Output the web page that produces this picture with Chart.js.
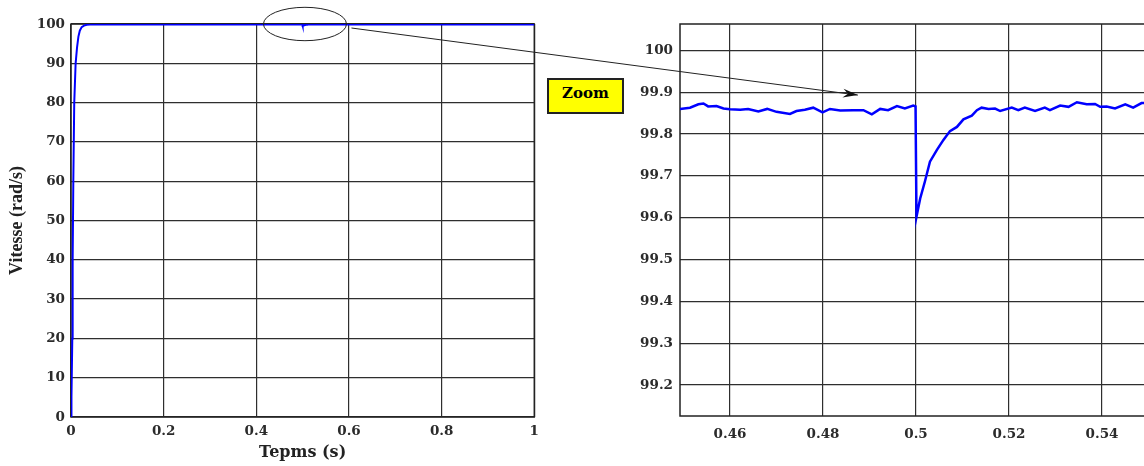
<!DOCTYPE html>
<html>
<head>
<meta charset="utf-8">
<script src="https://cdn.jsdelivr.net/npm/chart.js@4.4.1/dist/chart.umd.min.js"></script>
<style>
html, body { margin: 0; padding: 0; background: #fff; overflow: hidden; }
#wrap { position: relative; width: 1144px; height: 466px; overflow: hidden; }
#full { position: absolute; left: 0; top: 0; }
#zoom { position: absolute; left: 560px; top: 0; }
#over { position: absolute; left: 0; top: 0; pointer-events: none; }
#zoomLabel {
    position: absolute; left: 547px; top: 78px; width: 77px; height: 36px;
    background: #ffff00; border: 2px solid #222; box-sizing: border-box;
    font: bold 15px 'DejaVu Serif', serif; color: #000;
    text-align: center; line-height: 26px;
}
</style>
</head>
<body>
<div id="wrap">
    <canvas id="full" width="545" height="466"></canvas>
    <canvas id="zoom" width="610" height="466"></canvas>
    <canvas id="over" width="1144" height="466"></canvas>
    <div id="zoomLabel">Zoom</div>
</div>
<script>
// start-up of the speed (rad/s) vs time (s)
var startT = [0, 0.001, 0.0028, 0.0036, 0.005, 0.007, 0.010, 0.013, 0.016, 0.019, 0.023, 0.028, 0.034, 0.041, 0.1, 0.2, 0.3, 0.4];
var startV = [0, 5, 20, 40, 60, 80, 90, 94, 96.8, 98.3, 99.2, 99.6, 99.8, 99.86, 99.86, 99.86, 99.86, 99.86];

// zoomed window around the load step at t = 0.5 s
var zoomT = [0.44925, 0.4514, 0.4532, 0.4543, 0.4553, 0.4571, 0.4586, 0.4600, 0.4622, 0.4639,
    0.4661, 0.4680, 0.4700, 0.4729, 0.4743, 0.4761, 0.4779, 0.4799, 0.4815, 0.4837,
    0.4865, 0.4887, 0.4905, 0.4923, 0.4940, 0.4959, 0.4976, 0.4994, 0.4999, 0.5001,
    0.5009, 0.5019, 0.5030, 0.5045, 0.5059, 0.5073, 0.5088, 0.5102, 0.5120, 0.5131,
    0.5141, 0.5156, 0.5170, 0.5181, 0.5206, 0.5220, 0.5234, 0.5256, 0.5277, 0.5288,
    0.5310, 0.5328, 0.5346, 0.5367, 0.5385, 0.5396, 0.5410, 0.5428, 0.5450, 0.5467,
    0.5485, 0.5500];
var zoomV = [99.860, 99.863, 99.871, 99.873, 99.866, 99.867, 99.861, 99.859, 99.858, 99.860,
    99.854, 99.860, 99.853, 99.848, 99.855, 99.858, 99.863, 99.852, 99.860, 99.856,
    99.857, 99.857, 99.847, 99.860, 99.857, 99.867, 99.861, 99.868, 99.866, 99.602,
    99.646, 99.686, 99.734, 99.762, 99.786, 99.807, 99.817, 99.835, 99.844, 99.857,
    99.863, 99.860, 99.861, 99.855, 99.863, 99.857, 99.863, 99.855, 99.863, 99.857,
    99.868, 99.865, 99.876, 99.871, 99.872, 99.865, 99.866, 99.861, 99.871, 99.863,
    99.874, 99.874];

var endT = [0.7, 1];
var endV = [99.87, 99.87];

var fullXTicks = [0, 0.2, 0.4, 0.6, 0.8, 1];
var fullYTicks = [0, 10, 20, 30, 40, 50, 60, 70, 80, 90, 100];
var zoomXTicks = [0.46, 0.48, 0.5, 0.52, 0.54];
var zoomYTicks = [99.2, 99.3, 99.4, 99.5, 99.6, 99.7, 99.8, 99.9, 100];

// annotation anchors (ellipse on the full plot, arrow tip on the zoom plot)
var ellipseT = 0.505, ellipseV = 100;
var arrowT = 0.4875, arrowV = 99.893;

function toPoints(ts, vs) {
    var pts = [];
    for (var i = 0; i < ts.length; i++) {
        pts.push({x: ts[i], y: vs[i]});
    }
    return pts;
}

var fullData = toPoints(startT, startV).concat(toPoints(zoomT, zoomV), toPoints(endT, endV));
var zoomData = toPoints(zoomT, zoomV);

var tickFont = {family: 'DejaVu Serif', size: 13.5, weight: 'bold'};
var gridColor = '#2e2e2e';

var framePlugin = {
    id: 'frame',
    beforeDatasetsDraw: function(chart) {
        var a = chart.chartArea, c = chart.ctx;
        c.save();
        c.strokeStyle = '#222';
        c.lineWidth = 1.5;
        c.strokeRect(a.left, a.top, a.right - a.left, a.bottom - a.top);
        c.restore();
    }
};

function fixTicks(list) {
    return function(scale) {
        scale.ticks = list.map(function(v) { return {value: v}; });
    };
}

function labelOf(value) {
    return String(value);
}

var fullChart = new Chart(document.getElementById('full').getContext('2d'), {
    type: 'scatter',
    data: {
        datasets: [{
            data: fullData,
            showLine: true,
            borderColor: '#0000ff',
            borderWidth: 2,
            pointRadius: 0,
            tension: 0
        }]
    },
    options: {
        responsive: false,
        animation: false,
        layout: {padding: {top: 24, right: 9, left: 0, bottom: 0}},
        plugins: {legend: {display: false}, tooltip: {enabled: false}},
        scales: {
            x: {
                type: 'linear', min: 0, max: 1,
                afterBuildTicks: fixTicks(fullXTicks),
                afterFit: function(s) { s.height = 49; },
                grid: {color: gridColor, lineWidth: 1.2, drawTicks: false},
                border: {display: false},
                ticks: {font: tickFont, color: '#2b2b2b', padding: 6, callback: labelOf, maxRotation: 0},
                title: {display: true, text: 'Tepms (s)', font: {family: 'DejaVu Serif', size: 16, weight: 'bold'},
                    color: '#222', padding: {top: 0, bottom: 4}}
            },
            y: {
                type: 'linear', min: 0, max: 100,
                afterBuildTicks: fixTicks(fullYTicks),
                afterFit: function(s) { s.width = 71; },
                grid: {color: gridColor, lineWidth: 1.2, drawTicks: false},
                border: {display: false},
                ticks: {font: tickFont, color: '#2b2b2b', padding: 6, callback: labelOf},
                title: {display: true, text: 'Vitesse (rad/s)', font: {family: 'Liberation Serif', size: 18, weight: 'bold'},
                    color: '#222', padding: {top: 7, bottom: 0}}
            }
        }
    },
    plugins: [framePlugin]
});

var zoomChart = new Chart(document.getElementById('zoom').getContext('2d'), {
    type: 'scatter',
    data: {
        datasets: [{
            data: zoomData,
            showLine: true,
            borderColor: '#0000ff',
            borderWidth: 2.5,
            pointRadius: 0,
            tension: 0
        }]
    },
    options: {
        responsive: false,
        animation: false,
        layout: {padding: {top: 24, right: 0, left: 0, bottom: 0}},
        plugins: {legend: {display: false}, tooltip: {enabled: false}},
        scales: {
            x: {
                type: 'linear', min: 0.44925, max: 0.55462,
                afterBuildTicks: fixTicks(zoomXTicks),
                afterFit: function(s) { s.height = 50; },
                grid: {color: gridColor, lineWidth: 1.2, drawTicks: false},
                border: {display: false},
                ticks: {font: tickFont, color: '#2b2b2b', padding: 10, callback: labelOf, maxRotation: 0}
            },
            y: {
                type: 'linear', min: 99.126, max: 100.063,
                afterBuildTicks: fixTicks(zoomYTicks),
                afterFit: function(s) { s.width = 120; },
                grid: {color: gridColor, lineWidth: 1.2, drawTicks: false},
                border: {display: false},
                ticks: {font: tickFont, color: '#2b2b2b', padding: 7, callback: labelOf}
            }
        }
    },
    plugins: [framePlugin]
});

// ellipse + arrow linking the two plots
var oc = document.getElementById('over').getContext('2d');
var ex = fullChart.scales.x.getPixelForValue(ellipseT);
var ey = fullChart.scales.y.getPixelForValue(ellipseV);
var rx = 41.5, ry = 16.7;
oc.strokeStyle = '#222';
oc.lineWidth = 1;
oc.beginPath();
oc.ellipse(ex, ey, rx, ry, 0, 0, Math.PI * 2);
oc.stroke();

var sx = ex + 46.5, sy = ey + 4;
var tx = 560 + zoomChart.scales.x.getPixelForValue(arrowT);
var ty = zoomChart.scales.y.getPixelForValue(arrowV);
oc.beginPath();
oc.moveTo(sx, sy);
oc.lineTo(tx, ty);
oc.stroke();

var ang = Math.atan2(ty - sy, tx - sx);
var len = 15, half = 4.5, notch = 10;
var bx = tx - Math.cos(ang) * len, by = ty - Math.sin(ang) * len;
var nx = tx - Math.cos(ang) * notch, ny = ty - Math.sin(ang) * notch;
oc.fillStyle = '#111';
oc.beginPath();
oc.moveTo(tx, ty);
oc.lineTo(bx - Math.sin(ang) * half, by + Math.cos(ang) * half);
oc.lineTo(nx, ny);
oc.lineTo(bx + Math.sin(ang) * half, by - Math.cos(ang) * half);
oc.closePath();
oc.fill();
</script>
</body>
</html>
